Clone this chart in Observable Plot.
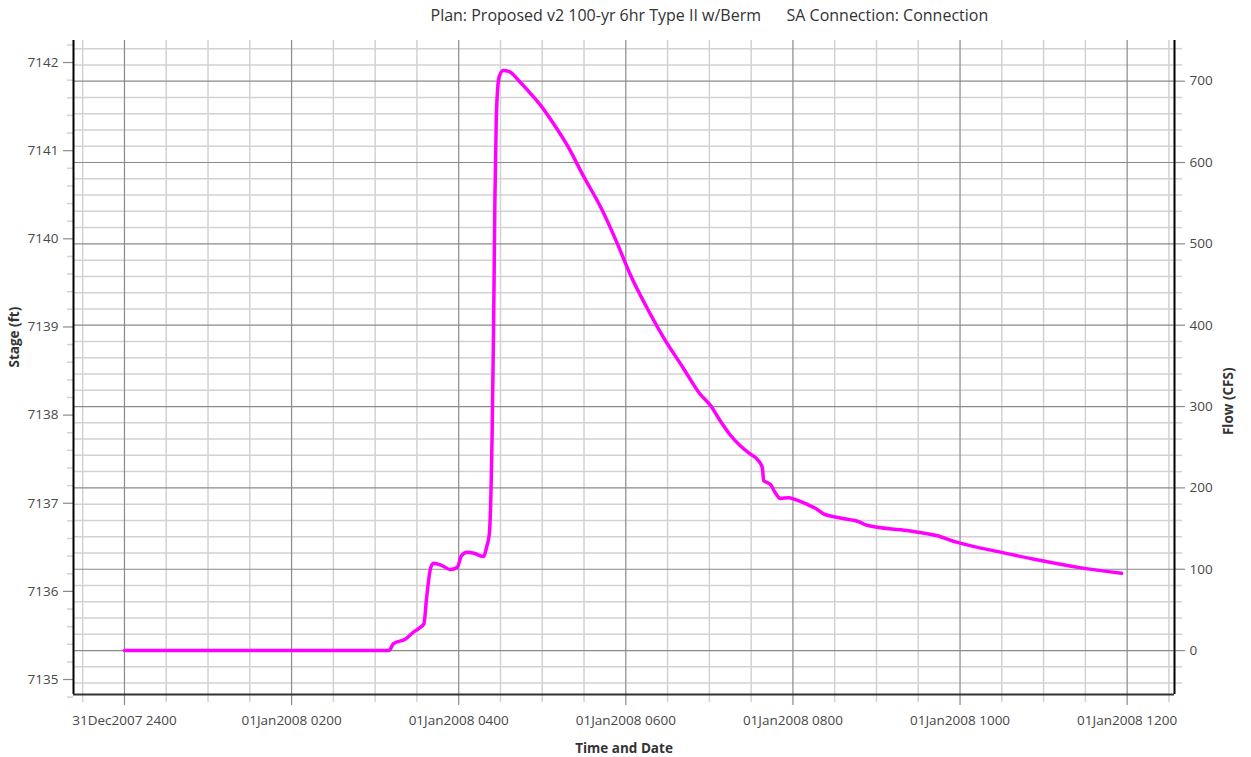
<!DOCTYPE html>
<html>
<head>
<meta charset="utf-8">
<script src="https://cdn.jsdelivr.net/npm/d3@7"></script>
<script src="https://cdn.jsdelivr.net/npm/@observablehq/plot@0.6"></script>
<style>
  html, body { margin: 0; padding: 0; background: #ffffff; }
  #chart svg { display: block; }
</style>
</head>
<body>
<div id="chart"></div>
<script>
// ---- text ----
const titleLeft = "Plan: Proposed v2 100-yr 6hr Type II w/Berm";
const titleRight = "SA Connection: Connection";
const xLabel = "Time and Date";
const yLeftLabel = "Stage (ft)";
const yRightLabel = "Flow (CFS)";

// ---- data: flow hydrograph on 01Jan2008 (UTC clock times) ----
const times = [
  "00:00","03:10","03:13","03:22","03:28","03:32","03:35","03:37","03:40","03:42",
  "03:48","03:54","03:59","04:02","04:06","04:11","04:18","04:20","04:22","04:24",
  "04:25","04:26","04:27","04:29","04:32","04:36","04:44","04:51","04:59","05:08",
  "05:18","05:30","05:42","05:54","06:03","06:15","06:27","06:41","06:53","07:01",
  "07:08","07:15","07:22","07:29","07:35","07:38","07:39","07:44","07:47","07:51",
  "07:57","08:03","08:10","08:17","08:22","08:34","08:48","08:53","09:22","09:43",
  "09:58","10:29","10:57","11:26","11:56"
];
const flows = [
  0, 0, 8.2, 14.4, 23.4, 27.9, 32.8, 65.5, 102.4, 107.3,
  104.5, 99.6, 102.4, 116.8, 120.9, 119.6, 115.6, 127, 143.5, 266,
  389, 553, 656, 705, 713, 712, 699, 686, 670, 648,
  621, 582, 545, 500, 463, 422, 385, 348, 316, 301,
  282, 265, 252, 242, 234, 225, 209, 204, 195, 187,
  188, 185, 180, 174, 168, 163, 158, 154, 147.5, 141.4,
  133, 121, 111, 102, 95
];
const dataDate = "2008-01-01";

// ---- axes ----
const xDomainText = ["2007-12-31T23:23:24Z", "2008-01-01T12:34:00Z"];
const timeMajorTickText = ["2008-01-01T00:00Z","2008-01-01T02:00Z","2008-01-01T04:00Z","2008-01-01T06:00Z","2008-01-01T08:00Z","2008-01-01T10:00Z","2008-01-01T12:00Z"];
const timeTickLabels = ["31Dec2007 2400","01Jan2008 0200","01Jan2008 0400","01Jan2008 0600","01Jan2008 0800","01Jan2008 1000","01Jan2008 1200"];
const timeMinorStart = "2007-12-31T23:30Z";
const timeMinorEnd = "2008-01-01T12:30Z";

const flowDomain = [-54, 750];
const flowMajorTicks = [0, 100, 200, 300, 400, 500, 600, 700];
const flowMinorTicks = d3.range(-40, 741, 20);

const stageDomain = [7134.83, 7142.25];
const stageMajorTicks = [7135, 7136, 7137, 7138, 7139, 7140, 7141, 7142];
const stageMinorTicks = d3.range(0, 38).map(i => Math.round((7134.8 + 0.2 * i) * 10) / 10);

// ---- build ----
const series = times.map((t, i) => ({time: new Date(`${dataDate}T${t}:00Z`), flow: flows[i]}));
const xDomain = xDomainText.map(s => new Date(s));
const timeMajor = timeMajorTickText.map(s => new Date(s));
const timeLabelMap = new Map(timeMajor.map((d, i) => [+d, timeTickLabels[i]]));
const timeMinor = d3.utcMinute.every(30).range(new Date(timeMinorStart), new Date(+new Date(timeMinorEnd) + 1));
const timeMinorOnly = timeMinor.filter(d => !timeLabelMap.has(+d));
const flowMinorOnly = flowMinorTicks.filter(v => !flowMajorTicks.includes(v));

const k = (flowDomain[1] - flowDomain[0]) / (stageDomain[1] - stageDomain[0]);
const stageToFlow = s => flowDomain[0] + (s - stageDomain[0]) * k;
const stageMajorMap = new Map(stageMajorTicks.map(s => [stageToFlow(s), String(s)]));
const stageMinorOnly = stageMinorTicks.filter(s => !stageMajorTicks.some(m => Math.abs(m - s) < 1e-6));

const light = "#d2d2d2";
const dark = "#8a8a8a";
const textColor = "#484848";
const W = 1251, H = 757;

const chart = Plot.plot({
  width: W,
  height: H,
  marginTop: 40,
  marginBottom: 63,
  marginLeft: 73,
  marginRight: 77,
  style: {fontFamily: "'Open Sans', 'Noto Sans', sans-serif", fontSize: "13.5px", color: textColor, background: "#ffffff", overflow: "visible"},
  x: {type: "utc", domain: xDomain},
  y: {domain: flowDomain},
  marks: [
    // light grid
    Plot.ruleY(flowMinorOnly, {stroke: light, strokeWidth: 1.5}),
    Plot.ruleX(timeMinorOnly, {stroke: light, strokeWidth: 1.5}),
    // dark grid
    Plot.ruleY(flowMajorTicks, {stroke: dark, strokeWidth: 1.2}),
    Plot.ruleX(timeMajor, {stroke: dark, strokeWidth: 1.2}),
    // bottom axis ticks
    Plot.axisX(timeMinorOnly, {anchor: "bottom", tickSize: 8, tickFormat: () => "", stroke: light, strokeWidth: 1.5, label: null}),
    Plot.axisX(timeMajor, {anchor: "bottom", tickSize: 11, tickPadding: 10, tickFormat: d => timeLabelMap.get(+d), stroke: dark, strokeWidth: 1.2, fill: textColor, label: null}),
    // left stage axis
    Plot.axisY(stageMinorOnly.map(stageToFlow), {anchor: "left", tickSize: 6, tickFormat: () => "", stroke: light, strokeWidth: 1.5, label: null}),
    Plot.axisY(stageMajorTicks.map(stageToFlow), {anchor: "left", tickSize: 10, tickPadding: 5, tickFormat: f => stageMajorMap.get(f), stroke: dark, strokeWidth: 1.2, fill: textColor, label: null}),
    // right flow axis
    Plot.axisY(flowMinorOnly, {anchor: "right", tickSize: 7, tickFormat: () => "", stroke: light, strokeWidth: 1.5, label: null}),
    Plot.axisY(flowMajorTicks, {anchor: "right", tickSize: 10, tickPadding: 5, tickFormat: d => String(d), stroke: dark, strokeWidth: 1.2, fill: textColor, label: null}),
    // axis lines
    Plot.ruleX([xDomain[0]], {stroke: "#000000", strokeWidth: 2}),
    Plot.ruleX([xDomain[1]], {stroke: "#000000", strokeWidth: 2}),
    Plot.ruleY([flowDomain[0]], {stroke: "#333333", strokeWidth: 2}),
    // flow series
    Plot.line(series, {x: "time", y: "flow", stroke: "#ff00ff", strokeWidth: 3.5, curve: "monotone-x", strokeLinecap: "round", strokeLinejoin: "round"}),
    // titles
    Plot.text([titleLeft], {text: d => d, frameAnchor: "top-left", lineAnchor: "middle", dx: 430 - 73, dy: -25, textAnchor: "start", fontSize: 16, fill: "#333333"}),
    Plot.text([titleRight], {text: d => d, frameAnchor: "top-left", lineAnchor: "middle", dx: 786 - 73, dy: -25, textAnchor: "start", fontSize: 16, fill: "#333333"}),
    Plot.text([yLeftLabel], {text: d => d, frameAnchor: "left", lineAnchor: "middle", dx: -59, rotate: -90, fontWeight: "bold", fontSize: 13.5, fill: "#333333"}),
    Plot.text([yRightLabel], {text: d => d, frameAnchor: "right", lineAnchor: "middle", dx: 54, rotate: -90, fontWeight: "bold", fontSize: 13.5, fill: "#333333"}),
    Plot.text([xLabel], {text: d => d, frameAnchor: "bottom", lineAnchor: "middle", dy: 54, fontWeight: "bold", fontSize: 13.5, fill: "#333333"})
  ]
});
document.getElementById("chart").appendChild(chart);
</script>
</body>
</html>
